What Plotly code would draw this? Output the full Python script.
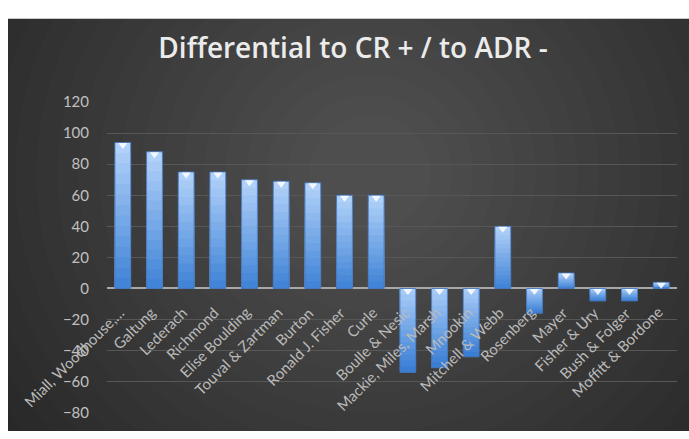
import plotly.graph_objects as go

# ---- data ----
categories = [
    "Miall, Woodhouse,…", "Galtung", "Lederach", "Richmond", "Elise Boulding",
    "Touval & Zartman", "Burton", "Ronald J. Fisher", "Curle", "Boulle & Nesic",
    "Mackie, Miles, Marsh", "Mnookin", "Mitchell & Webb", "Rosenberg", "Mayer",
    "Fisher & Ury", "Bush & Folger", "Moffitt & Bordone",
]
values = [94, 88, 75, 75, 70, 69, 68, 60, 60, -54, -51, -44, 40, -16, 10, -8, -8, 4]
y_ticks = [-80, -60, -40, -20, 0, 20, 40, 60, 80, 100, 120]
title_text = "Differential to CR + / to ADR -"

W, H = 689, 439
FONT = "Lato"

# ---- layout helpers (pixels -> paper) ----
def px(x):
    return x / W

def py(y):
    return 1 - y / H

light = (176, 209, 249)
dark = (58, 126, 212)

def mix(t):
    c = [round(light[i] + (dark[i] - light[i]) * t) for i in range(3)]
    return f"rgb({c[0]},{c[1]},{c[2]})"

fig = go.Figure()

# gradient bars via overlaid layers
n_layers = 14
for k in range(n_layers):
    f = 1 - k / n_layers
    colors = [mix(1 - f) if v > 0 else mix(f) for v in values]
    fig.add_trace(go.Bar(
        x=categories, y=[v * f for v in values],
        marker=dict(color=colors, line=dict(width=0)),
        hoverinfo="skip", showlegend=False,
    ))
# outline
fig.add_trace(go.Bar(
    x=categories, y=values,
    marker=dict(color="rgba(0,0,0,0)", line=dict(width=1, color="rgba(70,120,190,0.9)")),
    hoverinfo="skip", showlegend=False,
))
# white bevel triangles at the top edge of each bar
tri_y = [v - 1.6 if v > 0 else -1.6 for v in values]
fig.add_trace(go.Scatter(
    x=categories, y=tri_y, mode="markers",
    marker=dict(symbol="triangle-down", size=8, color="rgba(255,255,255,0.85)", line=dict(width=0)),
    hoverinfo="skip", showlegend=False,
))

# background: dark panel with radial light
shapes = [dict(type="rect", xref="paper", yref="paper", x0=px(8), x1=1, y0=0, y1=py(9),
               fillcolor="#262626", line=dict(width=0), layer="below")]
cx, cy = 370, 170
for i in range(20):
    r = 460 - i * 21
    shapes.append(dict(type="circle", xref="paper", yref="paper",
                       x0=px(cx - r), x1=px(cx + r), y0=py(cy + r), y1=py(cy - r),
                       fillcolor="rgba(255,255,255,0.011)", line=dict(width=0), layer="below"))

# category labels at the zero line
annotations = []
for c in categories:
    annotations.append(dict(
        x=c, y=0, xref="x", yref="y", text=c, showarrow=False,
        textangle=-45, xanchor="right", yanchor="top",
        xshift=7, yshift=-12,
        font=dict(family=FONT, size=15, color="#bababa"),
    ))

fig.update_layout(
    width=W, height=H,
    margin=dict(l=0, r=0, t=0, b=0),
    paper_bgcolor="white",
    plot_bgcolor="rgba(0,0,0,0)",
    barmode="overlay",
    bargap=0.5,
    shapes=shapes,
    annotations=annotations,
    title=dict(text=title_text, x=px(353), xanchor="center", y=py(48), yanchor="middle",
               font=dict(family="Open Sans", size=28, weight=600, color="#ebebeb")),
    xaxis=dict(domain=[px(107), px(677)], range=[-0.5, len(categories) - 0.5],
               autorange=False, showticklabels=False, showgrid=False,
               zeroline=False, showline=False, ticks=""),
    yaxis=dict(domain=[py(420), py(96)], range=[-80, 120], tickvals=y_ticks,
               showgrid=True, gridcolor="#575757", gridwidth=1,
               zeroline=True, zerolinecolor="#a8a8a8", zerolinewidth=1.5,
               showline=False, ticks="outside", ticklen=14, tickcolor="rgba(0,0,0,0)",
               tickfont=dict(family=FONT, size=15, color="#c0c0c0")),
)

fig.write_html("out.html")
